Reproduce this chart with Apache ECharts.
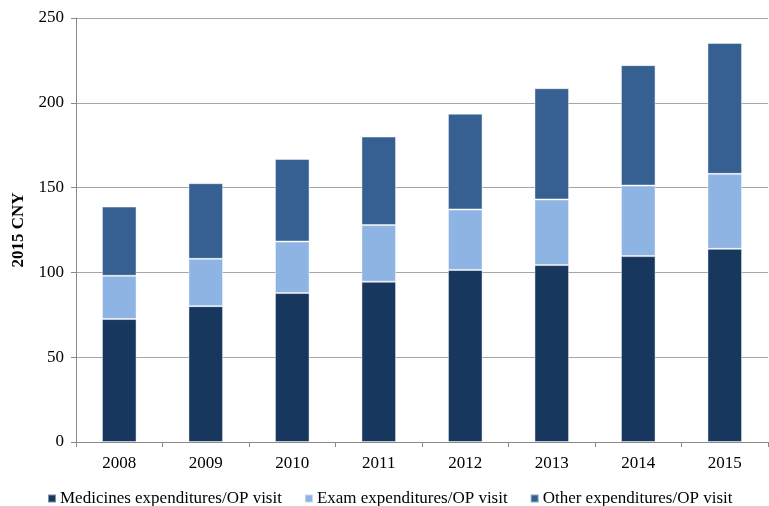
<!DOCTYPE html>
<html>
<head>
<meta charset="utf-8">
<script src="https://cdn.jsdelivr.net/npm/echarts@6/dist/echarts.min.js"></script>
<style>html,body{margin:0;padding:0;background:#fff}#c{width:769px;height:506px}</style>
</head>
<body>
<div id="c"></div>
<script>
var categories = ['2008','2009','2010','2011','2012','2013','2014','2015'];
var medicines = [72.5, 80.1, 87.8, 94.5, 101.4, 104.3, 109.6, 113.9];
var exam = [25.5, 27.9, 30.4, 33.4, 35.7, 38.7, 41.6, 44.2];
var other = [40.8, 44.6, 48.7, 52.2, 56.5, 65.6, 71.0, 77.2];
var seriesNames = ['Medicines expenditures/OP visit','Exam expenditures/OP visit','Other expenditures/OP visit'];
var colors = ['#17375E','#8EB4E3','#366092'];

var font = '"Liberation Serif", "Times New Roman", serif';
var chart = echarts.init(document.getElementById('c'));
function mk(name, data, color){
  return {name:name,type:'bar',stack:'a',data:data,barWidth:'40%',
    itemStyle:{color:color,borderColor:'rgba(255,255,255,0.45)',borderWidth:1},
    emphasis:{disabled:true}};
}
chart.setOption({
  animation:false,
  textStyle:{fontFamily:font},
  grid:{left:76,right:1,top:18,bottom:64,containLabel:false},
  legend:{top:485,left:42,itemWidth:8,itemHeight:8,itemGap:22,icon:'rect',
    textStyle:{fontFamily:font,fontSize:17,color:'#000',padding:[0,0,0,-1]},
    data:seriesNames},
  xAxis:{type:'category',data:categories,
    axisLine:{lineStyle:{color:'#898989'}},
    axisTick:{show:true,length:5,lineStyle:{color:'#898989'}},
    axisLabel:{fontFamily:font,fontSize:17,color:'#000',margin:13}},
  yAxis:{type:'value',min:0,max:250,interval:50,
    name:'2015 CNY',nameLocation:'middle',nameGap:42,
    nameTextStyle:{fontFamily:font,fontSize:17,fontWeight:'bold',color:'#000'},
    axisLine:{show:true,lineStyle:{color:'#898989'}},
    axisTick:{show:true,length:5,lineStyle:{color:'#898989'}},
    splitLine:{lineStyle:{color:'#a6a6a6'}},
    axisLabel:{fontFamily:font,fontSize:17,color:'#000',margin:12}},
  series:[mk(seriesNames[0],medicines,colors[0]),mk(seriesNames[1],exam,colors[1]),mk(seriesNames[2],other,colors[2])]
});
</script>
</body>
</html>
